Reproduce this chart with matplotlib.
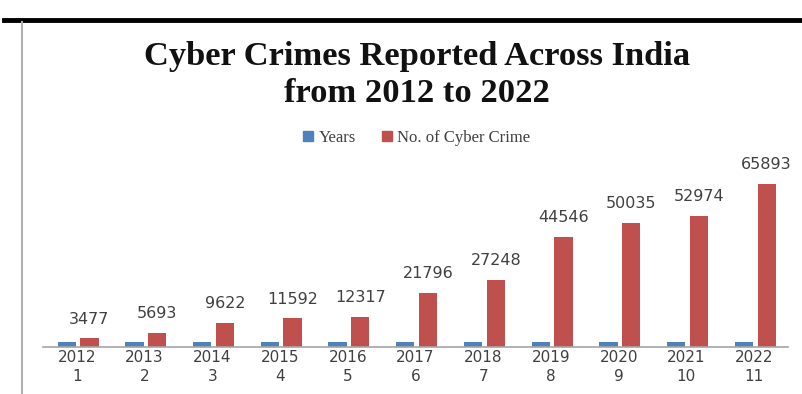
import matplotlib
matplotlib.use("Agg")
import matplotlib.pyplot as plt
from matplotlib.lines import Line2D
from matplotlib.patches import Patch
import numpy as np

years = [2012, 2013, 2014, 2015, 2016, 2017, 2018, 2019, 2020, 2021, 2022]
crimes = [3477, 5693, 9622, 11592, 12317, 21796, 27248, 44546, 50035, 52974, 65893]
index_labels = [str(i) for i in range(1, 12)]
series_names = ["Years", "No. of Cyber Crime"]

blue = "#4F81BD"
red = "#C0504D"

W, H = 803, 394
fig = plt.figure(figsize=(W / 100, H / 100), dpi=100)
ax = fig.add_axes([43 / W, 1 - 347 / H, (788 - 43) / W, (347 - 149) / H])

x = np.arange(len(years))
bw = 0.27
ax.bar(x - 0.15, years, width=bw, color=blue, label=series_names[0])
ax.bar(x + 0.185, crimes, width=bw, color=red, label=series_names[1])

for xi, v in zip(x, crimes):
    ax.annotate(str(v), (xi + 0.185, v), xytext=(0, 8.5), textcoords="offset points",
                ha="center", va="bottom", fontsize=11.5, color="#404040",
                family="DejaVu Sans")

ax.set_xlim(-0.5, len(years) - 0.5)
ax.set_ylim(0, 80000)
ax.set_xticks(x)
ax.set_xticklabels([f"{y}\n{i}" for y, i in zip(years, index_labels)],
                   fontsize=11, color="#404040", linespacing=1.35,
                   family="DejaVu Sans")
ax.tick_params(axis="x", length=0, pad=2)
ax.set_yticks([])
for s in ["top", "right", "left"]:
    ax.spines[s].set_visible(False)
ax.spines["bottom"].set_color("#a6a6a6")
ax.spines["bottom"].set_linewidth(1.2)
ax.patch.set_alpha(0)

# title
fig.text(417 / W, 1 - 65 / H, "Cyber Crimes Reported Across India", ha="center",
         va="baseline", fontsize=24.8, fontweight="bold", family="Liberation Serif",
         color="#111111")
fig.text(417 / W, 1 - 102 / H, "from 2012 to 2022", ha="center",
         va="baseline", fontsize=24.8, fontweight="bold", family="Liberation Serif",
         color="#111111")

# legend
handles = [Patch(color=blue), Patch(color=red)]
fig.legend(handles, series_names, loc="center", bbox_to_anchor=(417 / W, 1 - 138 / H),
           ncol=2, frameon=False, handlelength=0.6, handleheight=0.6,
           handletextpad=0.3, columnspacing=1.6,
           prop={"family": "Liberation Serif", "size": 12}, labelcolor="#404040")

# decorative borders
fig.add_artist(Line2D([4 / W, 1], [1 - 19.5 / H] * 2, color="black", lw=3.5))
fig.add_artist(Line2D([22 / W] * 2, [0, 1 - 22 / H], color="#b0b0b0", lw=1.5))

fig.savefig("out.png", dpi=100)
